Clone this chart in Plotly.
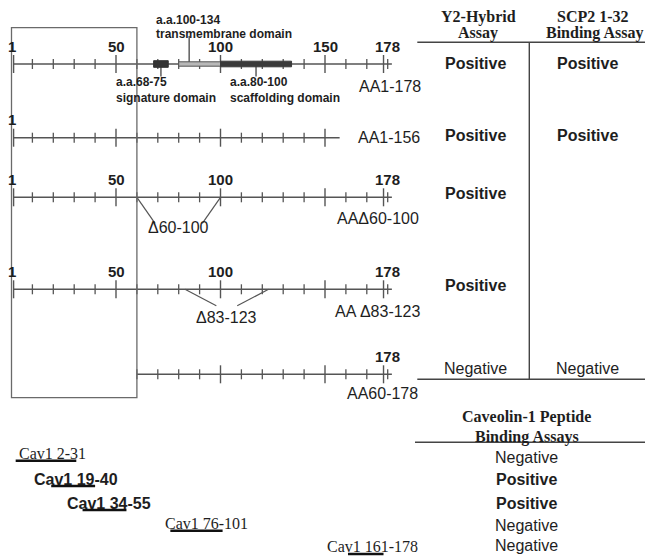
import plotly.graph_objects as go

# ---------------- data ----------------
construct_names = ["AA1-178", "AA1-156", "AA\u039460-100", "AA \u039483-123", "AA60-178"]
construct_first = [1, 1, 1, 1, 60]
construct_last = [182, 157, 182, 182, 182]
deleted_from = [None, None, 60, 83, None]
deleted_to = [None, None, 100, 123, None]
deletion_names = [None, None, "\u039460-100", "\u039483-123", None]
scale_labels = [[1, 50, 100, 150, 178], [1], [1, 50, 100, 178], [1, 50, 100, 178], [178]]

minor_ticks = [10, 20, 30, 40, 60, 70, 80, 90, 110, 120, 130, 140, 160, 170, 180]
major_ticks = [1, 50, 100, 150, 178]

domain_from = [68, 80, 100]
domain_to = [75, 100, 134]
domain_pointer = [71.5, 85, 117]
domain_range_text = ["a.a.68-75", "a.a.100-134", "a.a.80-100"]
domain_name_text = ["signature domain", "transmembrane domain", "scaffolding domain"]

y2h_result = ["Positive", "Positive", "Positive", "Positive", "Negative"]
scp2_result = ["Positive", "Positive", "", "", "Negative"]

peptide_names = ["Cav1 2-31", "Cav1 19-40", "Cav1 34-55", "Cav1 76-101", "Cav1 161-178"]
peptide_from = [2, 19, 34, 76, 161]
peptide_to = [31, 40, 55, 101, 178]
peptide_result = ["Negative", "Positive", "Positive", "Negative", "Negative"]

highlight_region = [0, 60]

# ---------------- layout geometry ----------------
W, H = 645, 557
PX0, PXS = 11.5, 2.09          # pixel of residue 0, pixels per residue
X_RANGE = [-PX0 / PXS, (W - PX0) / PXS]
row_y = [64, 137.7, 197.3, 289.3, 374.3]
name_pos = [(357, 86), (356, 137.7), (335, 218), (333, 311), (345, 393)]
deletion_drop = [None, None, 26, 16.5, None]
deletion_inset = [None, None, 8.7, 15, None]
deletion_label_dy = [None, None, 30, 28, None]
result_y = [63.3, 135, 193.3, 285.7, 368.3]
box_y = [27.7, 397.7]
peptide_label_px = [16.7, 32.3, 65, 163.3, 325]
peptide_label_y = [453.3, 479.3, 503.3, 523.3, 546.7]
peptide_line_y = [460.7, 486, 510, 530.7, 554]
cav_result_y = [457.3, 479, 503.3, 525, 545.7]

LINE = "#555555"
TXT = "#1e1e1e"
SANS = "Liberation Sans, Arial, sans-serif"
SERIF = "Liberation Serif, Times New Roman, serif"


def px(xp):
    return xp / W


fig = go.Figure()

# backbones
bx, by = [], []
for f, l, ry in zip(construct_first, construct_last, row_y):
    bx += [f, l, None]
    by += [ry, ry, None]
fig.add_trace(go.Scatter(x=bx, y=by, mode="lines", line=dict(color=LINE, width=1.4),
                         hoverinfo="skip"))

# ticks
mx, my, Mx, My = [], [], [], []
for f, l, ry in zip(construct_first, construct_last, row_y):
    for t in minor_ticks:
        if f <= t <= l:
            mx += [t, t, None]
            my += [ry - 5, ry + 5, None]
    for t in major_ticks:
        if f <= t <= l:
            Mx += [t, t, None]
            My += [ry - 9, ry + 9, None]
fig.add_trace(go.Scatter(x=mx, y=my, mode="lines", line=dict(color=LINE, width=1.3),
                         hoverinfo="skip"))
fig.add_trace(go.Scatter(x=Mx, y=My, mode="lines", line=dict(color=LINE, width=1.4),
                         hoverinfo="skip"))

# deletion markers
dx, dy = [], []
for i, ry in enumerate(row_y):
    if deleted_from[i] is None:
        continue
    a, b = deleted_from[i], deleted_to[i]
    ins, drop = deletion_inset[i], deletion_drop[i]
    dx += [a, a + ins, None, b, b - ins, None]
    dy += [ry, ry + drop, None, ry, ry + drop, None]
fig.add_trace(go.Scatter(x=dx, y=dy, mode="lines", line=dict(color=LINE, width=1.2),
                         hoverinfo="skip"))

# domain bars on the full-length construct
r0 = row_y[0]
shapes = []
shapes.append(dict(type="rect", xref="x", yref="y", x0=domain_from[0], x1=domain_to[0],
                   y0=r0 - 3.3, y1=r0 + 3.3, fillcolor="#333333", line=dict(color="#333333", width=1)))
shapes.append(dict(type="rect", xref="x", yref="y", x0=domain_from[1], x1=domain_to[1],
                   y0=r0 - 2.2, y1=r0 + 2.2, fillcolor="#b8b8b8", line=dict(color="#555555", width=1)))
shapes.append(dict(type="rect", xref="x", yref="y", x0=domain_from[2], x1=domain_to[2],
                   y0=r0 - 2.8, y1=r0 + 2.8, fillcolor="#3a3a3a", line=dict(color="#3a3a3a", width=1)))

# domain pointers
px_, py_ = [], []
pointer_span = [(r0, 76.5), (36, r0 - 1), (r0 + 2, 76.5)]
for p, (ya, yb) in zip(domain_pointer, pointer_span):
    px_ += [p, p, None]
    py_ += [ya, yb, None]
fig.add_trace(go.Scatter(x=px_, y=py_, mode="lines", line=dict(color="#444444", width=1.3),
                         hoverinfo="skip"))

# highlight box
shapes.append(dict(type="rect", xref="x", yref="y", x0=highlight_region[0], x1=highlight_region[1],
                   y0=box_y[0], y1=box_y[1], line=dict(color="#6a6a6a", width=1.3)))

# peptide spans (underlines)
ux, uy = [], []
for a, b, yy in zip(peptide_from, peptide_to, peptide_line_y):
    ux += [a, b, None]
    uy += [yy, yy, None]
fig.add_trace(go.Scatter(x=ux, y=uy, mode="lines", line=dict(color="#111111", width=2.6),
                         hoverinfo="skip"))

# table rules
for x0, x1, yy in [(417.3, 645, 42.3), (417.3, 645, 379.3), (415, 645, 442.3)]:
    shapes.append(dict(type="line", xref="paper", yref="y", x0=px(x0), x1=px(x1), y0=yy, y1=yy,
                       line=dict(color="#444444", width=1.4)))
shapes.append(dict(type="line", xref="paper", yref="y", x0=px(529.3), x1=px(529.3), y0=42.3, y1=379.3,
                   line=dict(color="#444444", width=1.4)))

ann = []


def add_text(text, x, y, xref="paper", xanchor="center", size=16, family=SANS, bold=False,
             xshift=0):
    t = "<b>" + text + "</b>" if bold else text
    ann.append(dict(text=t, x=x, y=y, xref=xref, yref="y", xanchor=xanchor, yanchor="middle",
                    showarrow=False, xshift=xshift,
                    font=dict(family=family, size=size, color=TXT)))


# scale numbers
for labels, ry in zip(scale_labels, row_y):
    for v in labels:
        shift = -2 if v == 1 else (4 if v == 178 else 0)
        add_text(str(v), v, ry - 18, xref="x", size=15, bold=True, xshift=shift)

# construct names
for name, (lx, ly) in zip(construct_names, name_pos):
    add_text(name, px(lx), ly, xanchor="left", size=16)

# deletion names
for i, ry in enumerate(row_y):
    if deletion_names[i]:
        add_text(deletion_names[i], (deleted_from[i] + deleted_to[i]) / 2, ry + deletion_label_dy[i],
                 xref="x", size=16)

# domain labels
dom_label_px = [114.3, 154, 228.3]
dom_label_y = [(81.7, 97.7), (20, 34.3), (81.7, 97.7)]
for t1, t2, lx, (y1, y2) in zip(domain_range_text, domain_name_text, dom_label_px, dom_label_y):
    add_text(t1, px(lx), y1, xanchor="left", size=12, bold=True)
    add_text(t2, px(lx), y2, xanchor="left", size=12, bold=True)

# table headers
add_text("Y2-Hybrid", px(478.3), 16.7, family=SERIF, bold=True)
add_text("Assay", px(478.3), 33.3, family=SERIF, bold=True)
add_text("SCP2 1-32", px(593.3), 16.7, family=SERIF, bold=True)
add_text("Binding Assay", px(594), 33.3, family=SERIF, bold=True)
add_text("Caveolin-1 Peptide", px(526.7), 416.7, family=SERIF, bold=True)
add_text("Binding Assays", px(526.7), 437.3, family=SERIF, bold=True)

# table results
for r, yy in zip(y2h_result, result_y):
    if r:
        add_text(r, px(475), yy, bold=(r == "Positive"))
for r, yy in zip(scp2_result, result_y):
    if r:
        add_text(r, px(587), yy, bold=(r == "Positive"))

# peptides
for name, res, lx, ly, cy in zip(peptide_names, peptide_result, peptide_label_px,
                                 peptide_label_y, cav_result_y):
    pos = res == "Positive"
    add_text(name, px(lx), ly, xanchor="left", family=SANS if pos else SERIF, bold=pos)
    add_text(res, px(526.7), cy, bold=pos)

fig.update_layout(
    width=W, height=H,
    margin=dict(l=0, r=0, t=0, b=0),
    paper_bgcolor="white", plot_bgcolor="white",
    showlegend=False,
    xaxis=dict(range=X_RANGE, visible=False, fixedrange=True),
    yaxis=dict(range=[H, 0], visible=False, fixedrange=True),
    shapes=shapes,
    annotations=ann,
)

fig.write_html("out.html", config={"displayModeBar": False},
               post_script="document.body.style.margin='0';document.body.style.overflow='hidden';")
